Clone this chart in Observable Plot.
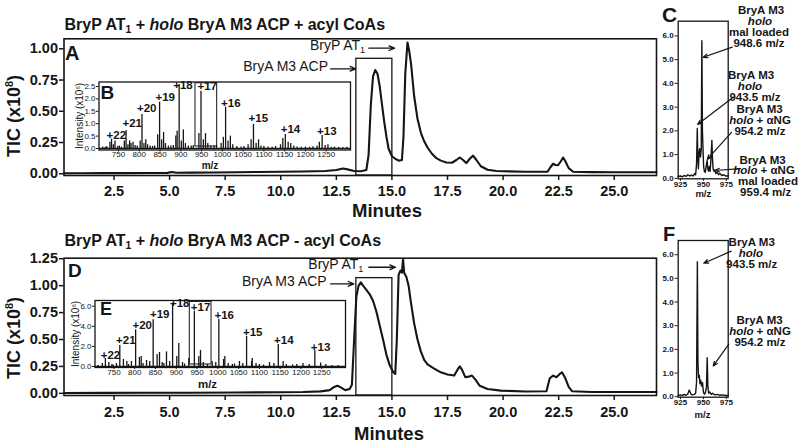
<!DOCTYPE html>
<html><head><meta charset="utf-8">
<script src="https://cdn.jsdelivr.net/npm/d3@7"></script>
<script src="https://cdn.jsdelivr.net/npm/@observablehq/plot@0.6"></script>
<style>
html,body{margin:0;padding:0;background:#fff;}
#fig{position:relative;width:800px;height:446px;overflow:hidden;font-family:"Liberation Sans",Arial,Helvetica,sans-serif;color:#161616;background:#fff;}
#fig svg{position:absolute;left:0;top:0;}
.t{position:absolute;white-space:nowrap;line-height:1.117;}
sub{font-size:0.65em;vertical-align:-0.3em;line-height:0;}
sup{font-size:0.6em;vertical-align:0.6em;line-height:0;}
</style></head><body><div id="fig"></div>
<script>
// ---------- DATA ----------
// Chromatogram A (+ acyl CoAs): minutes, TIC (x10^8)
const timeA = [0.25,1,2,3,4,4.9,5.1,5.3,6,7,8,9,10,11,12,12.5,12.8,13,13.3,13.6,13.85,13.95,14.05,14.15,14.25,14.35,14.45,14.55,14.65,14.75,14.85,15,15.15,15.3,15.45,15.52,15.6,15.7,15.78,15.86,16,16.15,16.3,16.45,16.6,16.8,17,17.2,17.45,17.7,17.9,18.05,18.2,18.35,18.5,18.65,18.8,19,19.3,19.7,20,21,22,22.12,22.25,22.35,22.47,22.6,22.7,22.8,22.95,23.15,24,25,26.9];
const ticA = [0.004,0.004,0.005,0.005,0.006,0.007,0.014,0.008,0.009,0.01,0.012,0.014,0.016,0.018,0.022,0.03,0.042,0.035,0.022,0.02,0.03,0.15,0.55,0.78,0.83,0.8,0.7,0.56,0.42,0.3,0.2,0.14,0.12,0.105,0.11,0.3,0.8,1.05,0.98,0.88,0.62,0.44,0.33,0.26,0.21,0.16,0.125,0.105,0.09,0.088,0.11,0.13,0.11,0.085,0.12,0.145,0.11,0.06,0.032,0.022,0.02,0.016,0.016,0.05,0.08,0.07,0.068,0.1,0.13,0.1,0.045,0.016,0.013,0.012,0.012];
// Chromatogram D (- acyl CoAs)
const timeD = [0.25,2,4,6,8,10,11,11.8,12.2,12.4,12.55,12.7,12.9,13.1,13.2,13.3,13.4,13.5,13.6,13.7,13.85,14,14.15,14.3,14.45,14.6,14.75,14.9,15.05,15.15,15.22,15.3,15.38,15.45,15.5,15.55,15.65,15.75,15.85,16,16.15,16.3,16.45,16.6,16.9,17.2,17.5,17.8,17.95,18.05,18.15,18.3,18.45,18.6,18.75,18.95,19.3,19.9,21,21.95,22.1,22.25,22.4,22.55,22.65,22.8,22.95,23.1,24,26.9];
const ticD = [0.003,0.004,0.005,0.006,0.008,0.01,0.012,0.018,0.03,0.06,0.07,0.055,0.03,0.04,0.08,0.5,0.9,1.0,1.03,1.0,0.96,0.92,0.86,0.76,0.63,0.5,0.36,0.26,0.2,0.18,0.5,1.1,1.14,1.12,1.25,1.12,1.08,1.0,0.85,0.65,0.5,0.39,0.31,0.27,0.23,0.195,0.175,0.165,0.22,0.25,0.22,0.15,0.155,0.165,0.13,0.07,0.04,0.025,0.017,0.02,0.14,0.165,0.15,0.18,0.195,0.14,0.06,0.02,0.012,0.012];

// Inset B spectrum: m/z, intensity (x10^6)
const bMz = [712,718,722,729.3,733.2,737.5,741.5,748,752,757,764.0,768.1,772.7,776.8,780,785,790,795,802.1,806.5,811.2,815.6,820,826,832,837,844.3,848.9,853.8,858.5,863,870,876,882,888,891.1,896.0,901.2,906.1,911,918,925,930,943.5,948.6,954.2,959.4,965,972,980,986,997,1002.4,1007.8,1013.8,1019.3,1025,1035,1045,1052,1062,1069.2,1074.9,1081.3,1087.1,1093,1100,1110,1120,1128,1140,1145.5,1151.6,1158.4,1164.7,1172,1180,1190,1200,1210,1218,1228,1233.5,1240.2,1247.5,1254.2,1262,1270,1280,1290,1300];
const bInt = [0.06,0.05,0.08,0.25,0.38,0.15,0.3,0.08,0.1,0.06,0.3,0.73,0.15,0.3,0.2,0.25,0.12,0.1,0.3,1.37,0.2,0.35,0.15,0.1,0.08,0.1,0.55,1.87,0.35,0.65,0.2,0.1,0.1,0.12,0.5,0.7,2.58,0.3,0.75,0.2,0.1,0.1,0.12,0.6,2.31,0.35,0.6,0.2,0.1,0.1,0.12,0.2,0.45,1.67,0.3,0.5,0.15,0.08,0.06,0.08,0.15,0.35,0.97,0.2,0.35,0.1,0.08,0.06,0.05,0.08,0.15,0.4,0.56,0.25,0.2,0.1,0.06,0.05,0.06,0.05,0.07,0.1,0.25,0.52,0.12,0.15,0.05,0.06,0.05,0.04,0.05];
// Inset E spectrum
const eMz = [712,722,729.3,737.5,745,748,756,764.0,772.7,781,785,792,802.1,811.2,815.5,820,828.3,836,844.3,853.8,859.6,866,870,876.4,884,891.1,901.2,906,915,920,930,943.5,954.2,958.3,965,975,986.4,995,1002.4,1013.8,1016.8,1025,1035,1040,1052,1060,1069.2,1081.3,1082.7,1092,1100,1110,1124.4,1135,1145.5,1157.3,1165,1180,1190,1205,1220,1233.5,1247.5,1260,1275,1290];
const eInt = [0.1,0.3,0.8,0.4,0.2,0.15,0.3,2.1,0.7,0.5,0.2,0.5,3.65,0.9,1.0,0.3,0.6,0.5,4.65,1.2,1.4,0.4,0.3,1.45,0.5,6.3,1.0,2.3,0.4,0.25,0.8,5.5,1.0,1.6,0.4,0.2,0.5,0.4,4.7,0.7,1.0,0.3,0.2,0.25,0.5,0.3,3.0,0.5,0.8,0.3,0.2,0.15,0.4,0.3,2.2,0.5,0.2,0.15,0.2,0.3,0.2,1.6,0.35,0.2,0.1,0.1];

// Charge-state labels
const charges = ["+22","+21","+20","+19","+18","+17","+16","+15","+14","+13"];
const bLabelMz = [744.6,782.9,817.8,862.4,905.2,963.5,1020.3,1086.5,1164.0,1251.4];
const bLabelInt = [0.39,0.86,1.46,1.91,2.41,2.34,1.69,1.06,0.62,0.55];
const eLabelMz = [741.6,778.4,817.9,860.1,908.2,958.3,1015.3,1083.9,1158.8,1247.2];
const eLabelInt = [0.77,2.26,3.75,4.85,5.9,5.5,4.74,3.08,2.19,1.59];

// Panel C spectrum (+17 region, + acyl CoAs)
const cMz = [922.5,925,927,929,931,933,935,937,939,940.5,941.5,942.5,943.3,943.8,944.5,945.3,946,946.8,947.6,948.3,948.9,949.5,950.2,951,952,953,954,954.8,955.6,956.5,957.3,958.2,959.2,959.8,960.5,961.5,962.5,963.5,965,966.5,968,970,972,974,977];
const cInt = [0.08,0.1,0.06,0.12,0.08,0.15,0.1,0.13,0.1,0.2,0.15,0.6,2.1,1.0,0.4,1.1,1.25,0.9,1.2,5.8,2.0,1.3,0.5,0.3,0.25,0.5,0.75,0.4,0.3,0.5,0.3,0.8,1.6,0.9,0.4,0.3,0.35,0.2,0.25,0.15,0.2,0.12,0.15,0.1,0.1];
// Panel F spectrum (+17 region, - acyl CoAs)
const fMz = [922.5,925,927,929,931,933,934.5,935.5,936.5,938,940,941.5,942.5,943.4,944,944.7,945.5,946.2,947,948,949,950,951,952,953.3,954.1,954.8,955.6,957,958.5,960,962,965,968,971,974,977];
const fInt = [0.05,0.08,0.05,0.1,0.06,0.12,0.28,0.2,0.1,0.08,0.1,0.15,0.6,5.7,1.5,0.8,0.9,0.55,0.7,0.45,0.6,0.2,0.1,0.15,0.4,1.65,0.5,0.15,0.2,0.1,0.15,0.08,0.1,0.06,0.08,0.05,0.05];

// Tick values
const minuteTicks = [2.5,5,7.5,10,12.5,15,17.5,20,22.5,25];
const ticTicksA = [0,0.25,0.5,0.75,1.0];
const ticTicksD = [0,0.25,0.5,0.75,1.0,1.25];
const mzTicks = [750,800,850,900,950,1000,1050,1100,1150,1200,1250];
const intTicksB = [0,0.5,1.0,1.5,2.0,2.5];
const intTicksE = [0,2,4,6];
const zoomMzTicks = [925,950,975];
const zoomIntTicks = [0,1,2,3,4,5,6];

// Annotation boxes & arrows (data units)
const boxA = [{x1:13.4,x2:15.02,y1:-0.014,y2:0.92}];
const boxD = [{x1:13.4,x2:15.02,y1:-0.02,y2:1.07}];
const arrowsA = [{x1:12.24,y1:0.84,x2:13.37,y2:0.84},{x1:13.96,y1:1.005,x2:15.12,y2:1.005}];
const arrowsD = [{x1:12.24,y1:1.017,x2:13.29,y2:1.017},{x1:13.96,y1:1.171,x2:15.16,y2:1.171}];
const boxB = [{x1:935.3,x2:987.5,y1:0.08,y2:2.63}];
const boxE = [{x1:932.5,x2:984.8,y1:0.2,y2:6.43}];
const arrowsC = [{x1:981.4,y1:5.53,x2:949.8,y2:5.1},{x1:982.5,y1:3.42,x2:943.6,y2:2.27},{x1:980.6,y1:1.94,x2:954.1,y2:0.8},{x1:990.4,y1:0.41,x2:962.6,y2:0.33}];
const arrowsF = [{x1:980.3,y1:6.15,x2:950.4,y2:5.64},{x1:977.7,y1:2.22,x2:960.7,y2:1.3}];

// ---------- DRAWING ----------
const FONT = '"Liberation Sans", Arial, Helvetica, sans-serif';
const INK = "#151515";
const fig = document.getElementById("fig");
const zip2 = (xs, ys) => xs.map((x, i) => ({x, y: ys[i]}));

function panel([l, t, r, b], xdom, ydom, marks) {
  const svg = Plot.plot({
    width: 800, height: 446,
    marginLeft: l, marginTop: t, marginRight: 800 - r, marginBottom: 446 - b,
    x: {domain: xdom}, y: {domain: ydom},
    style: {background: "transparent", fontFamily: FONT, color: INK, overflow: "visible"},
    marks
  });
  fig.appendChild(svg);
}
function axes(xt, yt, o) {
  return [
    Plot.axisY(yt, {tickSize: o.ty, tickPadding: o.py, tickFormat: d3.format(o.fy), fontSize: o.fs, fontWeight: o.fw, strokeWidth: o.sw, label: null}),
    Plot.axisX(xt, {tickSize: o.tx, tickPadding: o.px, tickFormat: d3.format(o.fx), fontSize: o.fs, fontWeight: o.fw, strokeWidth: o.sw, label: null})
  ];
}
const rectOpts = {x1: "x1", x2: "x2", y1: "y1", y2: "y2", fill: "none", stroke: INK, strokeWidth: 1.3};
const arrowOpts = {x1: "x1", y1: "y1", x2: "x2", y2: "y2", stroke: INK, strokeWidth: 1.3, headLength: 7, headAngle: 45};

// Main chromatograms
const mainX = [0.25, 26.9];
panel([63.5, 38.3, 656, 175], mainX, [-0.014, 1.08], [
  Plot.frame({stroke: INK, strokeWidth: 1.6}),
  ...axes(minuteTicks, ticTicksA, {ty: 4.5, py: 1.5, tx: 5, px: 5, fy: ".2f", fx: ".1f", fs: 14.5, fw: "bold", sw: 1.5}),
  Plot.rect(boxA, rectOpts),
  Plot.line(zip2(timeA, ticA), {x: "x", y: "y", stroke: INK, strokeWidth: 2.1}),
  Plot.arrow(arrowsA, arrowOpts)
]);
panel([63.5, 257.7, 656, 395], mainX, [-0.02, 1.255], [
  Plot.frame({stroke: INK, strokeWidth: 1.6}),
  ...axes(minuteTicks, ticTicksD, {ty: 4.5, py: 1.5, tx: 5, px: 6, fy: ".2f", fx: ".1f", fs: 14.5, fw: "bold", sw: 1.5}),
  Plot.rect(boxD, rectOpts),
  Plot.line(zip2(timeD, ticD), {x: "x", y: "y", stroke: INK, strokeWidth: 2.1}),
  Plot.arrow(arrowsD, arrowOpts)
]);

// Insets B and E
const insetAx = {ty: 2.5, py: 1, tx: 2, px: 0, fx: "d", fs: 8, fw: "normal", sw: 1};
panel([98.5, 81.5, 350, 149.5], [703, 1308.5], [-0.06, 2.68], [
  Plot.frame({stroke: INK, strokeWidth: 1.3, fill: "white"}),
  ...axes(mzTicks, intTicksB, {...insetAx, px: -1, fy: ".1f"}),
  Plot.ruleX(zip2(bMz, bInt), {x: "x", y1: 0, y2: "y", stroke: INK, strokeWidth: 1.3}),
  Plot.ruleY([0], {stroke: INK, strokeWidth: 1.4}),
  Plot.rect(boxB, {...rectOpts, strokeWidth: 1}),
  Plot.text(charges, {x: bLabelMz, y: bLabelInt, text: d => d, textAnchor: "middle", lineAnchor: "bottom", fontSize: 11.5, fontWeight: "bold", fill: INK})
]);
panel([94.5, 300, 345, 367], [704.3, 1307.3], [-0.1, 6.57], [
  Plot.frame({stroke: INK, strokeWidth: 1.3, fill: "white"}),
  ...axes(mzTicks, intTicksE, {...insetAx, fy: ".1f"}),
  Plot.ruleX(zip2(eMz, eInt), {x: "x", y1: 0, y2: "y", stroke: INK, strokeWidth: 1.3}),
  Plot.ruleY([0], {stroke: INK, strokeWidth: 1.4}),
  Plot.rect(boxE, {...rectOpts, strokeWidth: 1}),
  Plot.text(charges, {x: eLabelMz, y: eLabelInt, text: d => d, textAnchor: "middle", lineAnchor: "bottom", fontSize: 11.5, fontWeight: "bold", fill: INK})
]);

// Zoomed +17 spectra C and F
const zAx = {ty: 3, py: 1.5, tx: 2.5, px: 0, fx: "d", fy: ".1f", fs: 8, fw: "bold", sw: 1};
panel([677.7, 20.7, 727.7, 178.3], [922.5, 977], [-0.02, 6.62], [
  Plot.frame({stroke: INK, strokeWidth: 1.3}),
  ...axes(zoomMzTicks, zoomIntTicks, zAx),
  Plot.line(zip2(cMz, cInt), {x: "x", y: "y", stroke: INK, strokeWidth: 1.4}),
  Plot.arrow(arrowsC, {...arrowOpts, strokeWidth: 1.2, headLength: 6})
]);
panel([677.7, 240, 727.7, 396.7], [922.5, 977], [-0.02, 6.6], [
  Plot.frame({stroke: INK, strokeWidth: 1.3}),
  ...axes(zoomMzTicks, zoomIntTicks, zAx),
  Plot.line(zip2(fMz, fInt), {x: "x", y: "y", stroke: INK, strokeWidth: 1.4}),
  Plot.arrow(arrowsF, {...arrowOpts, strokeWidth: 1.2, headLength: 6})
]);

// ---------- TEXT ----------
function txt(html, x, base, size, o = {}) {
  const d = document.createElement("div");
  d.className = "t";
  d.innerHTML = html;
  d.style.fontSize = size + "px";
  d.style.fontWeight = o.weight || "bold";
  d.style.left = x + "px";
  d.style.top = (base - 0.905 * size) + "px";
  const tx = o.anchor === "middle" ? "-50%" : o.anchor === "end" ? "-100%" : "0";
  d.style.transform = `translateX(${tx})`;
  fig.appendChild(d);
}
function vtxt(html, cx, cy, size, weight) {
  const d = document.createElement("div");
  d.className = "t";
  d.innerHTML = html;
  d.style.fontSize = size + "px";
  d.style.fontWeight = weight;
  d.style.left = cx + "px";
  d.style.top = cy + "px";
  d.style.transform = "translate(-50%,-50%) rotate(-90deg)";
  fig.appendChild(d);
}
// Titles
txt("BryP AT<sub>1</sub> + <i>holo</i> BryA M3 ACP + acyl CoAs", 64.5, 30, 16);
txt("BryP AT<sub>1</sub> + <i>holo</i> BryA M3 ACP - acyl CoAs", 64.5, 246, 16);
// Panel letters
txt("A", 65, 60, 20); txt("B", 100.5, 98.7, 19); txt("C", 662, 21.7, 21);
txt("D", 68, 276.7, 19); txt("E", 100, 315, 18); txt("F", 663, 240.7, 20);
// Axis titles
vtxt("TIC (x10<sup>8</sup>)", 14, 116, 18, "bold");
vtxt("TIC (x10<sup>8</sup>)", 14, 337.5, 18, "bold");
txt("Minutes", 387, 218, 18.5, {anchor: "middle"});
txt("Minutes", 389, 441, 18.5, {anchor: "middle"});
vtxt("Intensity (x10<sup>6</sup>)", 80, 116, 10, "normal");
vtxt("Intensity (x10<sup>6</sup>)", 76, 334, 10, "normal");
txt("m/z", 210, 169.5, 10, {anchor: "middle"});
txt("m/z", 207.5, 388.5, 11.5, {anchor: "middle"});
txt("m/z", 703.3, 197.5, 9.5, {anchor: "middle"});
txt("m/z", 702.5, 418.5, 9.5, {anchor: "middle"});
// Peak annotations on chromatograms
txt("BryA M3 ACP", 328, 71.7, 14, {anchor: "end", weight: "normal"});
txt("BryP AT<sub>1</sub>", 310, 50.7, 14, {weight: "normal"});
txt("BryA M3 ACP", 326.7, 286.7, 14, {anchor: "end", weight: "normal"});
txt("BryP AT<sub>1</sub>", 308.3, 269.3, 14, {weight: "normal"});
// Panel C / F annotations
const S = 11.5, M = {anchor: "middle"};
txt("BryA M3", 761, 14, S, M); txt("<i>holo</i>", 760, 25, S, M); txt("mal loaded", 759, 36, S, M); txt("948.6 m/z", 759, 47, S, M);
txt("BryA M3", 751, 79.3, S, M); txt("<i>holo</i>", 750, 90.5, S, M); txt("943.5 m/z", 755, 101.7, S, M);
txt("BryA M3", 759.5, 113.5, S, M); txt("<i>holo</i> + αNG", 760, 124.3, S, M); txt("954.2 m/z", 760, 135, S, M);
txt("BryA M3", 762.5, 164, S, M); txt("<i>holo</i> + αNG", 764, 174.8, S, M); txt("mal loaded", 768, 185.5, S, M); txt("959.4 m/z", 765.7, 196.3, S, M);
txt("BryA M3", 751.7, 246.7, S, M); txt("<i>holo</i>", 750.8, 257.3, S, M); txt("943.5 m/z", 751.7, 268.3, S, M);
txt("BryA M3", 759.5, 324, S, M); txt("<i>holo</i> + αNG", 760, 335, S, M); txt("954.2 m/z", 760, 346, S, M);
</script>
</body></html>
